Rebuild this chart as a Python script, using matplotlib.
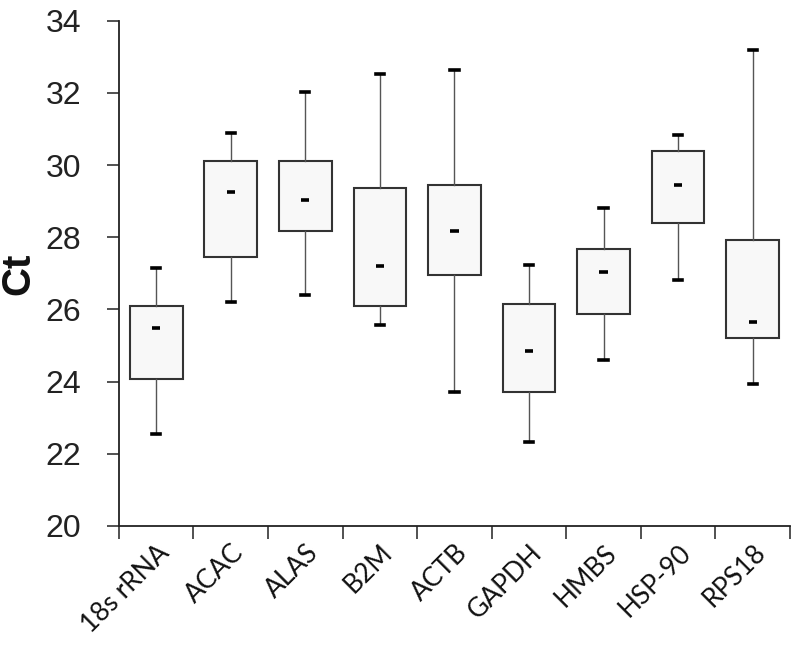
import matplotlib
matplotlib.use("Agg")
import matplotlib.pyplot as plt
import numpy as np

# --- DATA ---
genes = ['18s rRNA', 'ACAC', 'ALAS', 'B2M', 'ACTB', 'GAPDH', 'HMBS', 'HSP-90', 'RPS18']
ct_min = [22.56, 26.20, 26.40, 25.58, 23.70, 22.32, 24.60, 26.81, 23.94]
ct_q1 = [24.06, 27.46, 28.18, 26.10, 26.96, 23.70, 25.86, 28.40, 25.22]
ct_med = [25.48, 29.24, 29.04, 27.20, 28.18, 24.84, 27.05, 29.44, 25.65]
ct_q3 = [26.10, 30.10, 30.10, 29.37, 29.45, 26.15, 27.68, 30.38, 27.92]
ct_max = [27.14, 30.88, 32.03, 32.52, 32.63, 27.22, 28.82, 30.84, 33.20]

# ---------------------

fig = plt.figure(figsize=(7.98, 6.45), dpi=100)
ax = fig.add_axes([0.149, 0.1845, 0.841, 0.7835])

pos = np.arange(len(genes)) + 0.5
stats = []
for i, g in enumerate(genes):
    stats.append(dict(label=g, whislo=ct_min[i], q1=ct_q1[i], med=ct_med[i],
                      q3=ct_q3[i], whishi=ct_max[i], fliers=[]))

ax.bxp(stats, positions=pos, widths=0.706, patch_artist=True,
       showfliers=False, capwidths=0.11,
       boxprops=dict(facecolor='#f8f8f8', edgecolor='#333333', linewidth=1.5),
       whiskerprops=dict(color='#555555', linewidth=1.0),
       capprops=dict(color='black', linewidth=2.6),
       medianprops=dict(linewidth=0))

# short median dash
ax.hlines(ct_med, pos - 0.055, pos + 0.055, colors='black', linewidth=2.6, zorder=5)

ax.set_xlim(0, len(genes))
ax.set_ylim(20, 34)
ax.set_yticks(np.arange(20, 35, 2))

# boundary ticks as major, labels on minor ticks at category centres
ax.set_xticks(np.arange(0, len(genes) + 1))
ax.set_xticklabels([])
ax.set_xticks(pos, minor=True)
ax.set_xticklabels(genes, minor=True, rotation=45, ha='right',
                   rotation_mode='anchor', fontsize=19, family='Lato', color='#111111')
ax.tick_params(axis='x', which='minor', length=0, pad=10)
ax.tick_params(axis='x', which='major', length=9, width=1.1, direction='out', color='#222222')
ax.tick_params(axis='y', length=9, width=1.1, direction='out', color='#222222',
               pad=18, labelsize=23)
for lab in ax.get_yticklabels():
    lab.set_family('Liberation Sans')
    lab.set_color('#222222')

for s in ['top', 'right']:
    ax.spines[s].set_visible(False)
for s in ['left', 'bottom']:
    ax.spines[s].set_linewidth(1.3)
    ax.spines[s].set_color('#222222')

ax.set_ylabel('Ct', fontsize=29, fontweight='bold', family='Liberation Sans',
              labelpad=6, color='#111111')

fig.savefig('out.png', dpi=100)
